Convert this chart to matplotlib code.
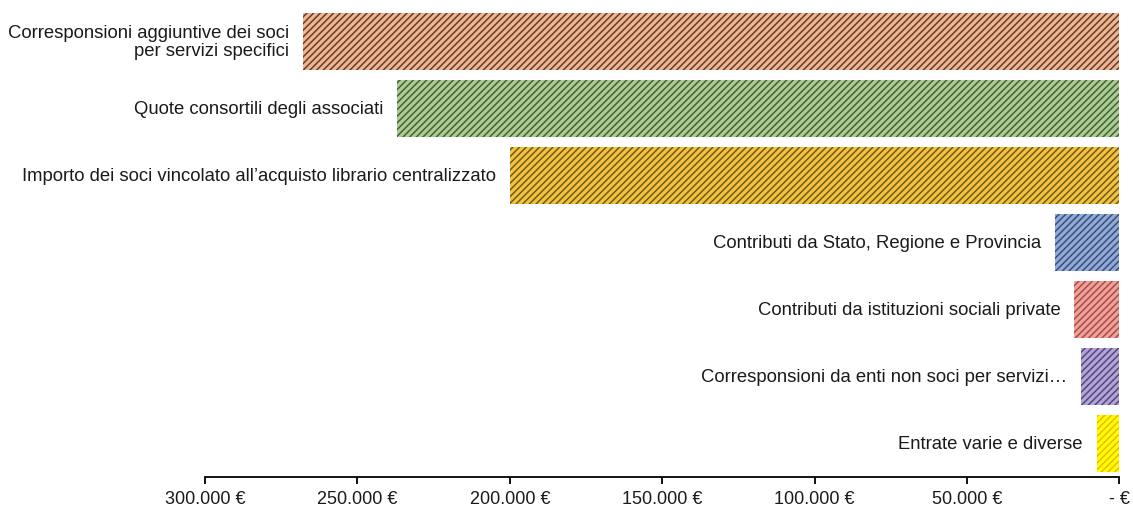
import matplotlib.pyplot as plt

# Dati (entrate, in euro)
voci = [
    "Corresponsioni aggiuntive dei soci\nper servizi specifici",
    "Quote consortili degli associati",
    "Importo dei soci vincolato all\u2019acquisto librario centralizzato",
    "Contributi da Stato, Regione e Provincia",
    "Contributi da istituzioni sociali private",
    "Corresponsioni da enti non soci per servizi\u2026",
    "Entrate varie e diverse",
]
valori = [268000, 237000, 200000, 21000, 14800, 12500, 7500]

colori = ["#F4B48E", "#A8D08D", "#F5C33B", "#8FAADC", "#F4A09A", "#B4A2DC", "#FFFF00"]
colori_tratteggio = ["#5A4034", "#4C5C42", "#6E5A24", "#404E70", "#A0504A", "#524A70", "#F2B800"]

tick_valori = [300000, 250000, 200000, 150000, 100000, 50000, 0]
tick_etichette = ["300.000 \u20ac", "250.000 \u20ac", "200.000 \u20ac", "150.000 \u20ac",
                  "100.000 \u20ac", "50.000 \u20ac", "- \u20ac"]

plt.rcParams['font.family'] = ['Liberation Sans', 'DejaVu Sans']
plt.rcParams['hatch.linewidth'] = 1.1

fig = plt.figure(figsize=(11.33, 5.10), dpi=100)
ax = fig.add_axes([0.181, 0.0627, 0.807, 0.9197])

pos = list(range(len(voci)))
barre = ax.barh(pos, valori, height=0.84, color=colori, linewidth=0)
for b, hc in zip(barre, colori_tratteggio):
    b.set_hatch("/////")
    b.set_edgecolor(hc)

for p, v, t in zip(pos, valori, voci):
    ax.annotate(t, xy=(v, p), xytext=(-10, 0), textcoords='offset points',
                ha='right', va='center', fontsize=13.3, color='#1a1a1a',
                multialignment='right', linespacing=1.1)

ax.set_xlim(300000, 0)
ax.set_ylim(len(voci) - 0.5, -0.5)
ax.set_xticks(tick_valori)
ax.set_xticklabels(tick_etichette, fontsize=13, color='#1a1a1a')
ax.set_yticks([])
for s in ['top', 'right', 'left']:
    ax.spines[s].set_visible(False)
ax.spines['bottom'].set_linewidth(1.3)
ax.tick_params(axis='x', direction='out', length=5, width=1.3, pad=4)

fig.savefig("out.png", dpi=100)
